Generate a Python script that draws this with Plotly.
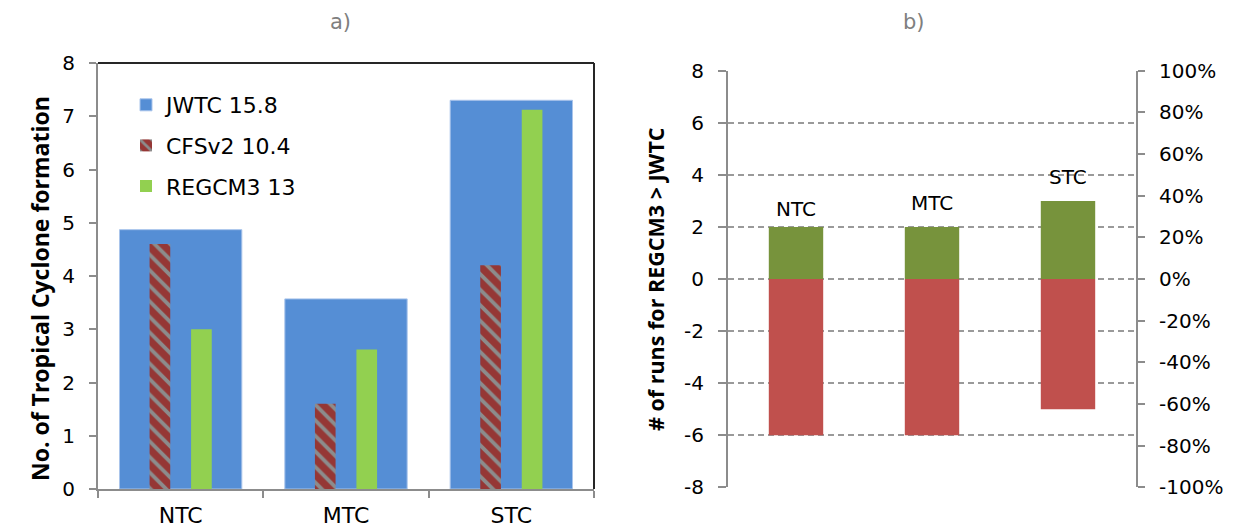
import plotly.graph_objects as go

# ---- data ----
categories = ["NTC", "MTC", "STC"]
jwtc = [4.87, 3.57, 7.30]
cfsv2 = [4.60, 1.60, 4.20]
regcm3 = [3.00, 2.62, 7.12]
legend_names = ["JWTC 15.8", "CFSv2 10.4", "REGCM3 13"]

runs_pos = [2, 2, 3]
runs_neg = [-6, -6, -5]
label_shift = [4, 10, 10]

runs_ticks = [-8, -6, -4, -2, 0, 2, 4, 6, 8]
runs_ticktext = ["-8", "-6", "-4", "-2", "0", "2", "4", "6", "8"]
pct_ticks = [-100, -80, -60, -40, -20, 0, 20, 40, 60, 80, 100]
pct_ticktext = ["-100%", "-80%", "-60%", "-40%", "-20%", "0%", "20%", "40%", "60%", "80%", "100%"]

FONT = "DejaVu Sans"
W, H = 1234, 531
OFF = 8  # page offset of the figure (default body margin)

def px_x(p):
    return (p - OFF) / W

def px_y(p):
    return 1 - (p - OFF) / H

fig = go.Figure()

# ---- panel a ----
fig.add_trace(go.Bar(
    x=categories, y=jwtc, name=legend_names[0], width=0.74,
    marker=dict(color="#558ED5", line=dict(color="#A9C4EB", width=1)),
    xaxis="x", yaxis="y", legendgroup="a"))
fig.add_trace(go.Bar(
    x=categories, y=cfsv2, name=legend_names[1], width=0.125, offset=-0.188,
    marker=dict(color="#953735",
                pattern=dict(shape="\\", fgcolor="#8C8C8C", bgcolor="#953735",
                             size=11, solidity=0.35, fillmode="replace"),
                line=dict(width=0)),
    xaxis="x", yaxis="y", legendgroup="b"))
fig.add_trace(go.Bar(
    x=categories, y=regcm3, name=legend_names[2], width=0.125, offset=0.063,
    marker=dict(color="#92D050", line=dict(width=0)),
    xaxis="x", yaxis="y", legendgroup="c"))

# ---- panel b ----
fig.add_trace(go.Bar(
    x=categories, y=runs_pos, width=0.4, marker=dict(color="#77933C", line=dict(width=0)),
    xaxis="x2", yaxis="y2", showlegend=False))
fig.add_trace(go.Bar(
    x=categories, y=runs_neg, width=0.4, marker=dict(color="#C0504D", line=dict(width=0)),
    xaxis="x2", yaxis="y2", showlegend=False))
# invisible trace so the right-hand percentage axis is drawn
fig.add_trace(go.Scatter(x=[categories[0]], y=[0], xaxis="x2", yaxis="y3",
                         mode="markers", marker=dict(opacity=0), showlegend=False,
                         hoverinfo="skip"))

axis_gray = "#8C8C8C"

fig.update_layout(
    template="none",
    width=W, height=H,
    margin=dict(l=0, r=0, t=0, b=0, pad=0, autoexpand=False),
    paper_bgcolor="white", plot_bgcolor="white",
    barmode="overlay",
    font=dict(family=FONT, color="#000000", size=20),
    showlegend=True,
    legend=dict(x=px_x(126), y=px_y(84), xanchor="left", yanchor="top",
                font=dict(family=FONT, size=22), bgcolor="rgba(0,0,0,0)",
                borderwidth=0,
                traceorder="grouped", tracegroupgap=9, itemwidth=30),
    xaxis=dict(domain=[px_x(98), px_x(594)], anchor="y", type="category",
               range=[-0.5, 2.5], tickson="boundaries", ticks="outside", ticklen=7,
               tickcolor=axis_gray, tickwidth=1.5, automargin=False,
               showline=True, linecolor=axis_gray, linewidth=2,
               showgrid=False, zeroline=False,
               tickfont=dict(size=22), ticklabelstandoff=6),
    yaxis=dict(domain=[px_y(489), px_y(63)], anchor="x", range=[0, 8], dtick=1,
               ticks="outside", ticklen=7, tickcolor=axis_gray, tickwidth=1.5,
               showline=True, linecolor=axis_gray, linewidth=2, automargin=False,
               showgrid=False, zeroline=False, tickfont=dict(size=20),
               ticklabelstandoff=10),
    xaxis2=dict(domain=[px_x(728), px_x(1136)], anchor="y2", type="category",
                range=[-0.5, 2.5], showticklabels=False, ticks="", automargin=False,
                showline=False, showgrid=False, zeroline=False),
    yaxis2=dict(domain=[px_y(487.3), px_y(70.7)], anchor="x2", range=[-8, 8],
                tickmode="array", tickvals=runs_ticks, ticktext=runs_ticktext,
                ticks="outside", ticklen=8, tickcolor=axis_gray, tickwidth=1.5,
                showline=True, linecolor=axis_gray, linewidth=2, automargin=False,
                showgrid=True, gridcolor="#9A9A9A", gridwidth=1.5, griddash="6px,4px",
                zeroline=False, tickfont=dict(size=20), ticklabelstandoff=10),
    yaxis3=dict(overlaying="y2", anchor="x2", side="right", range=[-100, 100],
                tickmode="array", tickvals=pct_ticks, ticktext=pct_ticktext,
                ticks="outside", ticklen=7, tickcolor=axis_gray, tickwidth=1.5,
                showline=True, linecolor=axis_gray, linewidth=2, automargin=False,
                showgrid=False, zeroline=False, tickfont=dict(size=20),
                ticklabelstandoff=10),
)

# top & right border of panel a
fig.add_shape(type="line", xref="x domain", yref="y domain", x0=0, x1=1, y0=1, y1=1,
              line=dict(color="#262626", width=2))
fig.add_shape(type="line", xref="x domain", yref="y domain", x0=1, x1=1, y0=0, y1=1,
              line=dict(color="#262626", width=2))

# panel titles
fig.add_annotation(text="a)", x=px_x(328), y=1, yanchor="top", xref="paper", yref="paper",
                   showarrow=False, font=dict(size=21, color="#7F7F7F"))
fig.add_annotation(text="b)", x=px_x(927), y=1, yanchor="top", xref="paper", yref="paper",
                   showarrow=False, font=dict(size=21, color="#7F7F7F"))

# axis titles
fig.add_annotation(text="<b>No. of Tropical Cyclone formation</b>", x=px_x(22), y=px_y(289),
                   xref="paper", yref="paper", textangle=-90, showarrow=False,
                   font=dict(family="Open Sans", size=23, color="#000000"))
fig.add_annotation(text="<b># of runs for REGCM3 > JWTC</b>", x=px_x(655), y=px_y(279),
                   xref="paper", yref="paper", textangle=-90, showarrow=False,
                   font=dict(family="Open Sans", size=21.5, color="#000000"))

# category labels above bars in panel b
for c, v, s in zip(categories, runs_pos, label_shift):
    fig.add_annotation(text=c, x=c, y=v, xref="x2", yref="y2", yanchor="bottom",
                       yshift=s, showarrow=False, font=dict(size=20, color="#000000"))

fig.write_html("out.html")
